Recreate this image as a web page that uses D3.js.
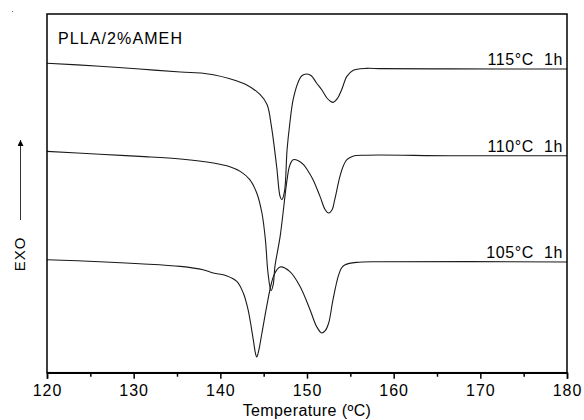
<!DOCTYPE html>
<html>
<head>
<meta charset="utf-8">
<script src="https://cdn.jsdelivr.net/npm/d3@7"></script>
<style>
  body { margin: 0; background: #fff; }
  text { font-family: 'Liberation Sans', Arial, sans-serif; fill: #000; white-space: pre; }
</style>
</head>
<body>
<div id="chart"></div>
<script>
// DSC curves, heat flow in arbitrary units (exo up)
var temp115 = [120, 126.1, 130.7, 135.4, 138.0, 139.2, 141.1, 143.0, 144.6, 145.4, 145.9, 146.5, 146.9, 147.1, 147.4, 147.7, 148.0, 148.4, 149.0, 149.4, 150.0, 150.5, 151.1, 151.7, 152.3, 152.7, 153.0, 153.5, 154.0, 154.6, 155.3, 156.9, 158.4, 166.5, 180]
var hf115 = [30.95, 30.65, 30.37, 30.07, 29.95, 29.8, 29.4, 28.8, 27.8, 26.8, 24.6, 20.6, 17.6, 17.3, 18.1, 22.3, 24.8, 27.3, 29.1, 29.7, 29.87, 29.7, 28.97, 28.3, 27.47, 27.15, 27.03, 27.4, 28.3, 29.63, 30.23, 30.43, 30.41, 30.38, 30.37]

var temp110 = [120, 126.1, 130.7, 135.4, 139.2, 141.1, 142.3, 143.4, 144.2, 144.8, 145.2, 145.5, 145.85, 146.1, 146.3, 146.9, 147.7, 148.0, 148.4, 149.0, 149.6, 150.1, 150.7, 151.5, 152.1, 152.5, 152.9, 153.2, 153.8, 154.2, 154.6, 155.3, 156.9, 166.5, 180]
var hf110 = [22.13, 21.85, 21.63, 21.37, 20.97, 20.6, 20.13, 19.3, 17.97, 15.97, 13.3, 9.97, 8.2, 8.8, 10.63, 13.63, 19.3, 20.7, 21.3, 21.2, 20.8, 20.2, 19.3, 17.63, 16.3, 15.97, 16.3, 17.3, 19.63, 20.7, 21.3, 21.65, 21.75, 21.7, 21.7]

var temp105 = [120, 126.1, 130.7, 135.4, 138.0, 139.2, 140.7, 141.9, 142.65, 143.2, 143.8, 144.06, 144.2, 144.4, 144.8, 145.35, 145.9, 146.3, 146.9, 148.0, 149.2, 150.35, 151.1, 151.7, 152.1, 152.5, 153.0, 153.6, 154.0, 154.4, 155.7, 158.4, 180]
var hf105 = [11.3, 11.1, 10.9, 10.63, 10.3, 9.97, 9.7, 9.13, 7.97, 6.3, 3.3, 1.9, 1.57, 2.1, 3.97, 6.63, 8.97, 9.97, 10.57, 10.13, 8.63, 6.3, 4.63, 3.97, 4.2, 4.97, 7.3, 9.63, 10.5, 10.8, 11.03, 11.1, 11.07]

var curveLabels = ['115\u00b0C  1h', '110\u00b0C  1h', '105\u00b0C  1h']
var xTicks = [120, 130, 140, 150, 160, 170, 180]
var xMinorTicks = [125, 135, 145, 155, 165, 175]

var width = 584
var height = 420
var margin = { top: 14, left: 47, right: 17, bottom: 47.3 }

var svg = d3.select('#chart').append('svg')
  .attr('width', width)
  .attr('height', height)

var x = d3.scaleLinear().domain([120, 180]).range([margin.left, width - margin.right])
var y = d3.scaleLinear().domain([0, 35.87]).range([height - margin.bottom, margin.top])

// 曲线
var series = [
  { t: temp115, v: hf115 },
  { t: temp110, v: hf110 },
  { t: temp105, v: hf105 }
]
var line = d3.line()
  .x(function (d) { return x(d[0]) })
  .y(function (d) { return y(d[1]) })
  .curve(d3.curveCatmullRom.alpha(0.5))

series.forEach(function (s) {
  svg.append('path')
    .datum(d3.zip(s.t, s.v))
    .attr('fill', 'none')
    .attr('stroke', '#1a1a1a')
    .attr('stroke-width', 1.1)
    .attr('d', line)
})

// curve labels, just above the right-hand baseline
series.forEach(function (s, i) {
  svg.append('text')
    .attr('x', x(180) - 4)
    .attr('y', y(s.v[s.v.length - 1]) - 4)
    .attr('text-anchor', 'end')
    .attr('font-size', '16px')
    .attr('letter-spacing', '0.6px')
    .text(curveLabels[i])
})

// frame
svg.append('rect')
  .attr('x', x(120))
  .attr('y', margin.top)
  .attr('width', x(180) - x(120))
  .attr('height', height - margin.bottom - margin.top)
  .attr('fill', 'none')
  .attr('stroke', '#000')
  .attr('stroke-width', 1.5)

// x axis
var xAxis = svg.append('g')
  .attr('transform', 'translate(0,' + (height - margin.bottom) + ')')
  .call(d3.axisBottom(x).tickValues(xTicks).tickSize(6).tickPadding(6).tickFormat(d3.format('d')))
xAxis.select('.domain').attr('stroke-width', 1.5)
xAxis.selectAll('.tick line').attr('stroke-width', 1.5)
xAxis.selectAll('text')
  .attr('font-size', '16px')
  .attr('letter-spacing', '1px')
  .attr('font-family', "'Liberation Sans', Arial, sans-serif")

svg.append('g')
  .attr('transform', 'translate(0,' + (height - margin.bottom) + ')')
  .call(d3.axisBottom(x).tickValues(xMinorTicks).tickSize(4).tickFormat(''))
  .call(function (g) { g.select('.domain').remove() })
  .selectAll('.tick line').attr('stroke-width', 1.5)

svg.append('text')
  .attr('x', (x(120) + x(180)) / 2)
  .attr('y', 416)
  .attr('text-anchor', 'middle')
  .attr('font-size', '16px')
  .attr('letter-spacing', '0.4px')
  .text('Temperature (\u00baC)')

// sample name
svg.append('text')
  .attr('x', 58)
  .attr('y', 43.5)
  .attr('font-size', '16px')
  .attr('letter-spacing', '1.1px')
  .text('PLLA/2%AMEH')

// EXO arrow
svg.append('defs').append('marker')
  .attr('id', 'head')
  .attr('viewBox', '0 0 10 10')
  .attr('refX', 10)
  .attr('refY', 5)
  .attr('markerWidth', 8)
  .attr('markerHeight', 6)
  .attr('markerUnits', 'userSpaceOnUse')
  .attr('orient', 'auto')
  .append('path')
  .attr('d', 'M0,0L10,5L0,10Z')
  .attr('fill', '#000')

svg.append('line')
  .attr('x1', 20.5).attr('y1', 220)
  .attr('x2', 20.5).attr('y2', 140)
  .attr('stroke', '#333')
  .attr('stroke-width', 1)
  .attr('marker-end', 'url(#head)')

svg.append('text')
  .attr('transform', 'translate(25,254) rotate(-90)')
  .attr('text-anchor', 'middle')
  .attr('font-size', '15px')
  .attr('letter-spacing', '1px')
  .text('EXO')

// small speck top-left
svg.append('rect').attr('x', 12).attr('y', 11).attr('width', 1).attr('height', 1).attr('fill', '#666')
</script>
</body>
</html>
